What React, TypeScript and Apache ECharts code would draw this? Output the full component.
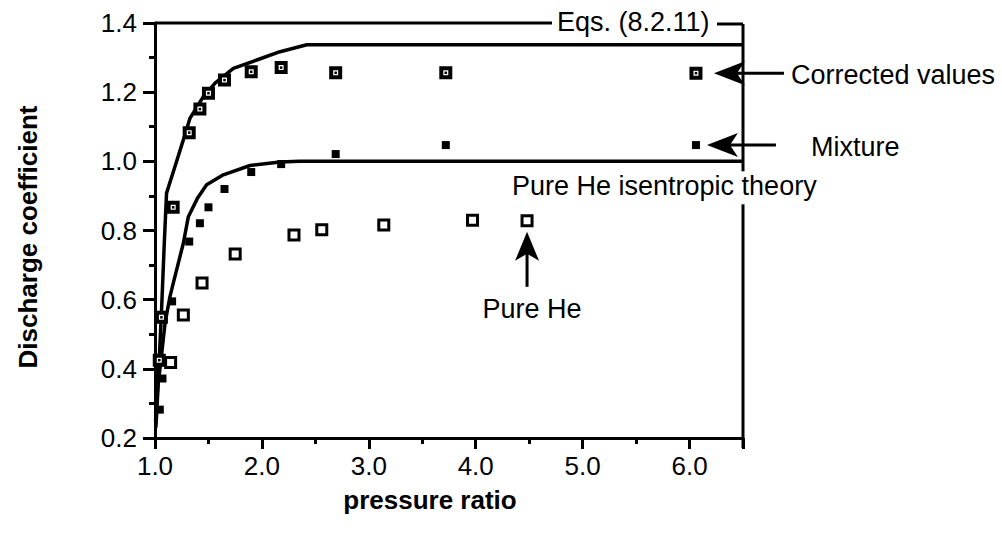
import React, { useEffect, useRef } from "react";
import * as echarts from "echarts";

// Axis ranges and tick spacing
const X_MIN = 1.0;
const X_MAX = 6.5;
const Y_MIN = 0.2;
const Y_MAX = 1.4;
const Y_STEP = 0.2;

// Eqs. (8.2.11) curve
const eqsX = [1.005, 1.02, 1.04, 1.06, 1.085, 1.108, 1.187, 1.265, 1.328, 1.452, 1.562, 1.733, 1.952, 2.17, 2.42, 6.5];
const eqsY = [0.25, 0.32, 0.43, 0.56, 0.75, 0.908, 0.985, 1.062, 1.125, 1.187, 1.226, 1.269, 1.293, 1.317, 1.337, 1.337];

// Pure He isentropic theory curve
const isoX = [1.008, 1.016, 1.031, 1.063, 1.094, 1.14, 1.171, 1.265, 1.312, 1.4, 1.483, 1.639, 1.889, 2.17, 2.35, 6.5];
const isoY = [0.23, 0.273, 0.36, 0.445, 0.532, 0.609, 0.648, 0.763, 0.84, 0.895, 0.932, 0.961, 0.988, 0.998, 1.0, 1.0];

// Corrected values
const corrX = [1.04, 1.06, 1.17, 1.32, 1.42, 1.5, 1.65, 1.9, 2.18, 2.69, 3.72, 6.06];
const corrY = [0.425, 0.549, 0.867, 1.083, 1.151, 1.197, 1.235, 1.259, 1.271, 1.256, 1.256, 1.255];

// Mixture
const mixX = [1.045, 1.07, 1.16, 1.32, 1.42, 1.5, 1.65, 1.9, 2.18, 2.69, 3.72, 6.06];
const mixY = [0.282, 0.372, 0.595, 0.768, 0.821, 0.867, 0.92, 0.969, 0.992, 1.021, 1.047, 1.047];

// Pure He
const heX = [1.146, 1.265, 1.44, 1.75, 2.3, 2.56, 3.14, 3.97, 4.48];
const heY = [0.418, 0.556, 0.648, 0.732, 0.787, 0.802, 0.816, 0.83, 0.828];

const pairs = (xs: number[], ys: number[]) => xs.map((x, i) => [x, ys[i]]);

const FONT = "'Liberation Sans', Arial, Helvetica, sans-serif";
const INK = "#000";

export default function App() {
  const ref = useRef<HTMLDivElement>(null);

  useEffect(() => {
    if (!ref.current) return;
    const chart = echarts.init(ref.current, undefined, { renderer: "svg" });

    const textStyle = { fontFamily: FONT, fontSize: 26, color: INK };

    chart.setOption({
      animation: false,
      backgroundColor: "#fff",
      grid: { left: 155, top: 23, right: 259, bottom: 96, containLabel: false },
      xAxis: [
        {
          type: "value",
          min: X_MIN,
          max: X_MAX,
          interval: 1,
          axisLine: { show: true, onZero: false, lineStyle: { color: INK, width: 3 } },
          axisTick: { show: true, length: 11, lineStyle: { color: INK, width: 3 } },
          axisLabel: {
            ...textStyle,
            margin: 15,
            formatter: (v: number) => (Math.abs(v - Math.round(v)) < 1e-6 ? v.toFixed(1) : ""),
          },
          splitLine: { show: false },
        },
        {
          type: "value",
          min: X_MIN,
          max: X_MAX,
          interval: 0.5,
          position: "bottom",
          axisLine: { show: false },
          axisTick: { show: true, length: 6, lineStyle: { color: INK, width: 3 } },
          axisLabel: { show: false },
          splitLine: { show: false },
        },
      ],
      yAxis: {
        type: "value",
        min: Y_MIN,
        max: Y_MAX,
        interval: Y_STEP,
        axisLine: { show: true, onZero: false, lineStyle: { color: INK, width: 3 } },
        axisTick: { show: true, length: 12, lineStyle: { color: INK, width: 3 } },
        minorTick: { show: true, splitNumber: 2, length: 6, lineStyle: { color: INK, width: 3 } },
        axisLabel: { ...textStyle, margin: 18, formatter: (v: number) => v.toFixed(1) },
        splitLine: { show: false },
        minorSplitLine: { show: false },
      },
      series: [
        {
          name: "Eqs. (8.2.11)",
          type: "line",
          data: pairs(eqsX, eqsY),
          symbol: "none",
          lineStyle: { color: INK, width: 3.5 },
          z: 2,
        },
        {
          name: "Pure He isentropic theory",
          type: "line",
          data: pairs(isoX, isoY),
          symbol: "none",
          lineStyle: { color: INK, width: 3.5 },
          z: 2,
        },
        {
          name: "Pure He",
          type: "scatter",
          data: pairs(heX, heY),
          symbol: "rect",
          symbolSize: 10,
          itemStyle: { color: "#fff", borderColor: INK, borderWidth: 3, opacity: 1 },
          z: 3,
        },
        {
          name: "Mixture",
          type: "scatter",
          data: pairs(mixX, mixY),
          symbol: "rect",
          symbolSize: 8,
          itemStyle: { color: INK, opacity: 1 },
          z: 3,
        },
        {
          name: "Corrected values",
          type: "scatter",
          data: pairs(corrX, corrY),
          symbol: "rect",
          symbolSize: 9,
          itemStyle: { color: "#fff", borderColor: INK, borderWidth: 4, opacity: 1 },
          z: 4,
        },
        {
          name: "Corrected values (centre)",
          type: "scatter",
          data: pairs(corrX, corrY),
          symbol: "rect",
          symbolSize: 2.5,
          itemStyle: { color: INK, opacity: 1 },
          z: 5,
        },
      ],
    });

    const px = (x: number, y: number) =>
      chart.convertToPixel({ xAxisIndex: 0, yAxisIndex: 0 }, [x, y]) as number[];

    const [left, top] = px(X_MIN, Y_MAX);
    const [right, bottom] = px(X_MAX, Y_MIN);

    const leftArrow = (tx: number, ty: number) => ({
      type: "polygon",
      shape: { points: [[tx, ty], [tx + 31, ty - 12], [tx + 23, ty], [tx + 31, ty + 12]] },
      style: { fill: INK },
    });
    const upArrow = (tx: number, ty: number) => ({
      type: "polygon",
      shape: { points: [[tx, ty], [tx - 12, ty + 29], [tx, ty + 22], [tx + 12, ty + 29]] },
      style: { fill: INK },
    });
    const seg = (x1: number, y1: number, x2: number, y2: number) => ({
      type: "line",
      shape: { x1, y1, x2, y2 },
      style: { stroke: INK, lineWidth: 3 },
    });
    const label = (text: string, x: number, y: number, align = "left", extra: any = {}) => ({
      type: "text",
      x,
      y,
      style: {
        text,
        fill: INK,
        font: `${extra.bold ? "bold " : ""}${extra.size || 27}px ${FONT}`,
        align,
        verticalAlign: "middle",
      },
      rotation: extra.rotation || 0,
    });

    const eqsText = 557;
    const corr = px(corrX[corrX.length - 1], corrY[corrY.length - 1]);
    const mix = px(mixX[mixX.length - 1], mixY[mixY.length - 1]);
    const he = px(heX[heX.length - 1], heY[heY.length - 1]);
    const isoFlat = px(X_MAX, isoY[isoY.length - 1]);

    chart.setOption({
      graphic: [
        // framing line along the top with the equation label
        seg(left, top, eqsText - 5, top),
        label("Eqs. (8.2.11)", eqsText, top - 1),
        seg(eqsText + 160, top + 1, right, top + 1),
        // right frame, interrupted by the theory label
        seg(right, top + 1, right, isoFlat[1] + 10),
        seg(right, isoFlat[1] + 43, right, bottom + 10),
        label("Pure He isentropic theory", 512, isoFlat[1] + 25),
        // corrected values arrow
        leftArrow(corr[0] + 18, corr[1]),
        seg(corr[0] + 40, corr[1], corr[0] + 88, corr[1]),
        label("Corrected values", corr[0] + 95, corr[1] + 2),
        // mixture arrow
        leftArrow(mix[0] + 11, mix[1]),
        seg(mix[0] + 33, mix[1], mix[0] + 80, mix[1]),
        label("Mixture", mix[0] + 115, mix[1] + 2),
        // pure He arrow
        upArrow(he[0], he[1] + 11),
        seg(he[0], he[1] + 30, he[0], he[1] + 66),
        label("Pure He", he[0] + 5, he[1] + 88, "center"),
        // axis titles
        label("pressure ratio", 430, 500, "center", { bold: true, size: 26 }),
        label("Discharge coefficient", 28, 237, "center", { bold: true, size: 26, rotation: Math.PI / 2 }),
      ],
    });

    return () => chart.dispose();
  }, []);

  return (
    <div
      ref={ref}
      style={{ position: "fixed", left: 0, top: 0, width: 1002, height: 534, background: "#fff" }}
    />
  );
}
